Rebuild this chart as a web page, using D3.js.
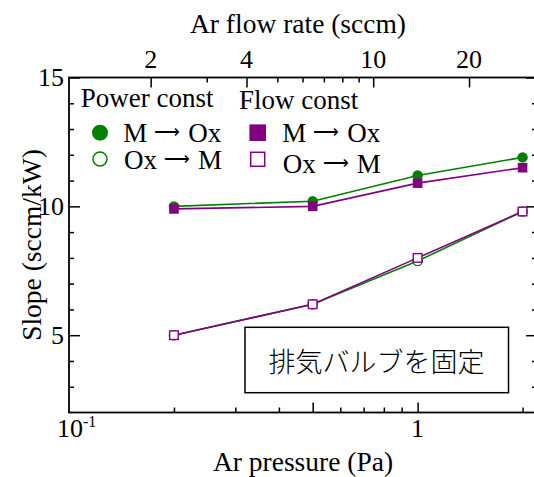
<!DOCTYPE html>
<html><head><meta charset="utf-8">
<script src="https://cdn.jsdelivr.net/npm/d3@7"></script>
<style>body{margin:0;background:#fff}svg{display:block}</style>
</head><body>
<script>
// ---- data ----
const pressure = [0.2, 0.5, 1, 2];             // Ar pressure (Pa)
const powerMtoOx = [10.0, 10.2, 11.2, 11.9];   // Power const, M -> Ox
const powerOxtoM = [5.0, 6.2, 7.88, 9.8];      // Power const, Ox -> M
const flowMtoOx  = [9.9, 10.0, 10.9, 11.5];    // Flow const, M -> Ox
const flowOxtoM  = [5.0, 6.2, 8.0, 9.8];       // Flow const, Ox -> M
const yTicksMajor = [5, 10, 15];
const yTicksMinor = [3, 4, 6, 7, 8, 9, 11, 12, 13, 14];
const xTicksMajor = [0.5, 1];
const xTicksMinor = [0.2, 0.3, 0.4, 0.6, 0.7, 0.8, 0.9, 2];
const topTicksMajor = [2, 4, 10, 20];
const topTicksMinor = [3, 5, 6, 7, 8, 9];
const legendPower = [["M", "Ox"], ["Ox", "M"]];
const legendFlow  = [["M", "Ox"], ["Ox", "M"]];

const W = 534, H = 477;
const L = 69, R = 537, T = 77.5, B = 412.5;
const GREEN = "#008000", PURPLE = "#800080";
const SERIF = '"Liberation Serif", "Times New Roman", Tinos, serif';

const svg = d3.select("body").append("svg").attr("width", W).attr("height", H);

const x = d3.scaleLog().domain([0.1, 2.2]).range([L, R]);
const xTop = d3.scaleLog().domain([1.108, 32.7]).range([L, R]);
const y = d3.scaleLinear().domain([2, 15]).range([B, T]);

function txt(g, xx, yy, size, s, anchor) {
  return g.append("text").attr("x", xx).attr("y", yy).attr("font-size", size)
    .attr("text-anchor", anchor || "start").style("font-family", SERIF).attr("fill", "#000").text(s);
}

// axes (ticks inward)
function ax(gen, tr, vals, size) {
  svg.append("g").attr("transform", tr)
    .call(gen.tickValues(vals).tickSize(size).tickSizeOuter(0).tickFormat(""))
    .call(g => g.select(".domain").remove())
    .call(g => g.selectAll("line").attr("stroke", "#000").attr("stroke-width", 1.5));
}
ax(d3.axisBottom(x), `translate(0,${B})`, xTicksMajor, -10);
ax(d3.axisBottom(x), `translate(0,${B})`, xTicksMinor, -5);
ax(d3.axisTop(xTop), `translate(0,${T})`, topTicksMajor, -10);
ax(d3.axisTop(xTop), `translate(0,${T})`, topTicksMinor, -5);
ax(d3.axisLeft(y), `translate(${L},0)`, yTicksMajor, -11);
ax(d3.axisLeft(y), `translate(${L},0)`, yTicksMinor, -5);
ax(d3.axisRight(y), `translate(${R},0)`, yTicksMajor, -11);
ax(d3.axisRight(y), `translate(${R},0)`, yTicksMinor, -5);

svg.append("rect").attr("x", L).attr("y", T).attr("width", R - L).attr("height", B - T)
  .attr("fill", "none").attr("stroke", "#000").attr("stroke-width", 1.8);

// tick labels
const lab = svg.append("g");
yTicksMajor.forEach(v => txt(lab, L - 5, y(v) + 8.7, 26, v, "end"));
topTicksMajor.forEach(v => txt(lab, xTop(v), 68.3, 26, v, "middle"));
txt(lab, x(1), 437, 26, "1", "middle");
const t01 = txt(lab, 57, 437, 26, "10");
t01.append("tspan").attr("font-size", 16).attr("dy", -10).text("-1");

// axis titles
txt(lab, 298, 33.3, 27.5, "Ar flow rate (sccm)", "middle");
txt(lab, 303, 471, 27.5, "Ar pressure (Pa)", "middle");
txt(lab, 0, 0, 27.5, "Slope (sccm/kW)", "middle").attr("transform", "translate(40.5,245) rotate(-90)");

// series
const line = d3.line().x((d, i) => x(pressure[i])).y(d => y(d));
const plot = svg.append("g");
function series(vals, color, shape, filled) {
  plot.append("path").attr("d", line(vals)).attr("fill", "none")
    .attr("stroke", color).attr("stroke-width", 1.6);
  vals.forEach((v, i) => {
    const cx = x(pressure[i]), cy = y(v);
    if (shape === "circle") {
      plot.append("circle").attr("cx", cx).attr("cy", cy).attr("r", filled ? 5.2 : 4.6)
        .attr("fill", filled ? color : "#fff").attr("stroke", color).attr("stroke-width", filled ? 0 : 1.4);
    } else {
      const s = filled ? 9.6 : 8.6;
      plot.append("rect").attr("x", cx - s / 2).attr("y", cy - s / 2).attr("width", s).attr("height", s)
        .attr("fill", filled ? color : "#fff").attr("stroke", color).attr("stroke-width", filled ? 0 : 1.4);
    }
  });
}
series(powerMtoOx, GREEN, "circle", true);
series(powerOxtoM, GREEN, "circle", false);
series(flowMtoOx, PURPLE, "square", true);
series(flowOxtoM, PURPLE, "square", false);

// legend
const lg = svg.append("g");
txt(lg, 80.7, 106.7, 27, "Power const");
txt(lg, 239, 109.3, 27, "Flow const");
function arrowLabel(x0, yb, pair) {
  const t = txt(lg, x0, yb, 27, pair[0]);
  t.append("tspan").attr("font-size", 18).attr("dx", 7).attr("dy", -4).text("\u27F6");
  t.append("tspan").attr("dx", 8).attr("dy", 4).text(pair[1]);
}
lg.append("circle").attr("cx", 100).attr("cy", 132.7).attr("r", 8).attr("fill", GREEN);
lg.append("circle").attr("cx", 100).attr("cy", 159).attr("r", 7).attr("fill", "#fff")
  .attr("stroke", GREEN).attr("stroke-width", 1.5);
arrowLabel(123.3, 142.3, legendPower[0]);
arrowLabel(124, 169.3, legendPower[1]);
lg.append("rect").attr("x", 257.7 - 8.3).attr("y", 132.7 - 8.3).attr("width", 16.6).attr("height", 16.6)
  .attr("fill", PURPLE);
lg.append("rect").attr("x", 257.7 - 7).attr("y", 159.3 - 7).attr("width", 14).attr("height", 14)
  .attr("fill", "#fff").attr("stroke", PURPLE).attr("stroke-width", 1.5);
arrowLabel(282.3, 142.3, legendFlow[0]);
arrowLabel(282.7, 172.7, legendFlow[1]);

// annotation box
svg.append("rect").attr("x", 245).attr("y", 327.3).attr("width", 263.5).attr("height", 65.4)
  .attr("fill", "#fff").attr("stroke", "#000").attr("stroke-width", 1.5);
svg.append("text").attr("x", 376.5).attr("y", 360.5).attr("dominant-baseline", "central")
  .attr("text-anchor", "middle").style("font-family", '"Noto Sans CJK JP", sans-serif')
  .attr("font-weight", 300).attr("font-size", 27).text("排気バルブを固定");
</script>
</body></html>
